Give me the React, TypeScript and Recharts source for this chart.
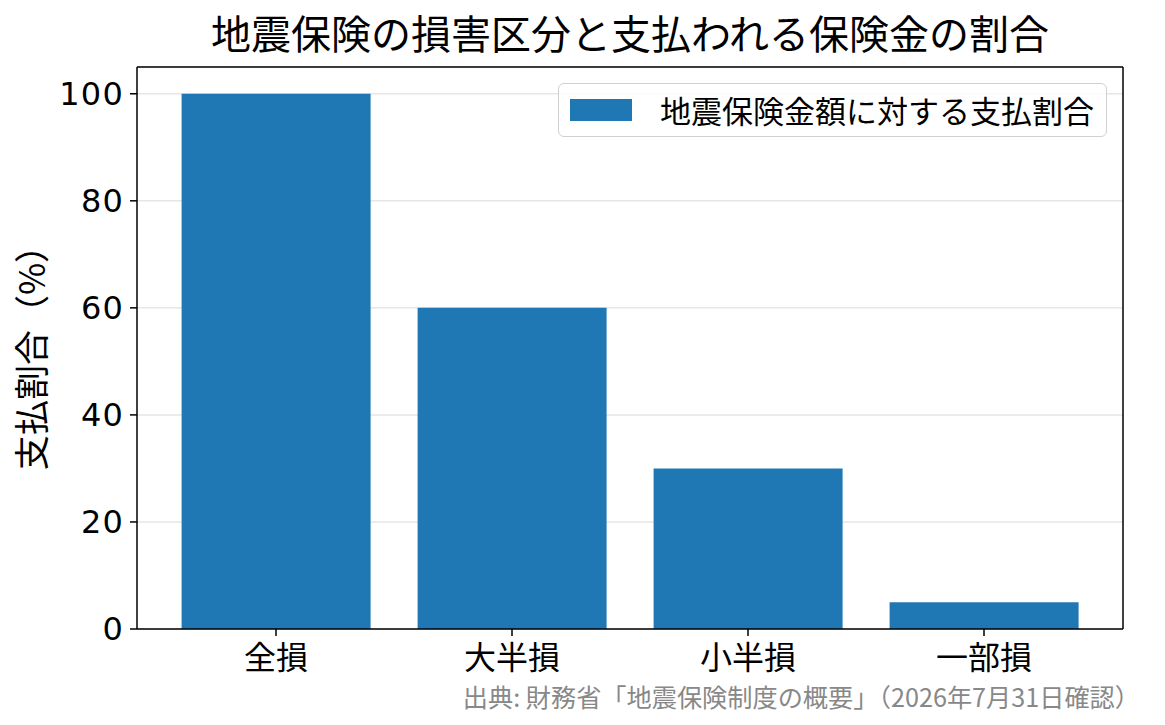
import React from "react";
import {
  BarChart,
  Bar,
  XAxis,
  YAxis,
  CartesianGrid,
} from "recharts";

const categories = ["全損", "大半損", "小半損", "一部損"];
const payoutRatio = [100, 60, 30, 5];
const yTicks = [0, 20, 40, 60, 80, 100];

const seriesName = "地震保険金額に対する支払割合";
const title = "地震保険の損害区分と支払われる保険金の割合";
const source = "出典: 財務省「地震保険制度の概要」（2026年7月31日確認）";

const data = categories.map((name, i) => ({ name, ratio: payoutRatio[i] }));

const FONT = '"Noto Sans CJK JP", "Noto Sans", sans-serif';
const NUM_FONT = '"DejaVu Sans", "Noto Sans CJK JP", sans-serif';
const BLUE = "#1f77b4";

const YLabel = (props: any) => {
  const vb = props.viewBox || {};
  const cx = vb.x + 29;
  const cy = vb.y + vb.height / 2 + 1;
  return (
    <text
      x={cx}
      y={cy}
      transform={`rotate(-90, ${cx}, ${cy})`}
      textAnchor="middle"
      dominantBaseline="central"
      fontSize={35}
      fontFamily={FONT}
      fill="#000"
    >
      支払割合（%）
    </text>
  );
};

// top and right spines: lines at the plot area's edges
const topEdge = ({ offset }: any) => [offset.top];
const sideEdges = ({ offset }: any) => [offset.left + offset.width];

export default function App() {
  return (
    <div style={{ position: "absolute", left: 0, top: 0, width: 1165, height: 725, background: "#fff" }}>
      <div
        style={{
          position: "absolute",
          left: 137,
          width: 986,
          top: 4,
          textAlign: "center",
          fontFamily: FONT,
          fontSize: 40,
          lineHeight: "56px",
          color: "#000",
          whiteSpace: "nowrap",
        }}
      >
        {title}
      </div>
      <BarChart
        width={1165}
        height={725}
        data={data}
        margin={{ top: 67, right: 42, bottom: 36, left: 0 }}
        barCategoryGap="10%"
      >
        <CartesianGrid vertical={false} stroke="#e6e6e6" strokeWidth={1.5} />
        <CartesianGrid
          stroke="#000"
          strokeWidth={1.5}
          horizontalCoordinatesGenerator={topEdge}
          verticalCoordinatesGenerator={sideEdges}
        />
        <XAxis
          dataKey="name"
          height={60}
          padding={{ left: 21, right: 21 }}
          axisLine={{ stroke: "#000", strokeWidth: 1.5 }}
          tickLine={{ stroke: "#000", strokeWidth: 1.5 }}
          tickSize={7}
          tick={{ fill: "#000", fontSize: 32, fontFamily: FONT, dy: 8 }}
          interval={0}
        />
        <YAxis
          width={137}
          domain={[0, 105]}
          ticks={yTicks}
          interval={0}
          axisLine={{ stroke: "#000", strokeWidth: 1.5 }}
          tickLine={{ stroke: "#000", strokeWidth: 1.5 }}
          tickSize={7}
          tick={{ fill: "#000", fontSize: 32, fontFamily: NUM_FONT, dx: -4, letterSpacing: 1.2 }}
          label={<YLabel />}
        />
        <Bar dataKey="ratio" name={seriesName} fill={BLUE} isAnimationActive={false} />
      </BarChart>
      <div
        style={{
          position: "absolute",
          top: 83,
          right: 58,
          display: "flex",
          alignItems: "center",
          border: "1.5px solid #d0d0d0",
          borderRadius: 6,
          background: "rgba(255,255,255,0.8)",
          padding: "7px 12px 7px 11px",
          fontFamily: FONT,
          fontSize: 31,
          color: "#000",
          lineHeight: "38px",
        }}
      >
        <span
          style={{
            display: "inline-block",
            width: 62,
            height: 22,
            background: BLUE,
            marginRight: 28,
          }}
        />
        <span>{seriesName}</span>
      </div>
      <div
        style={{
          position: "absolute",
          right: 25,
          top: 679,
          fontFamily: FONT,
          fontSize: 25.2,
          lineHeight: "34px",
          color: "#888",
          whiteSpace: "nowrap",
        }}
      >
        {source}
      </div>
    </div>
  );
}
